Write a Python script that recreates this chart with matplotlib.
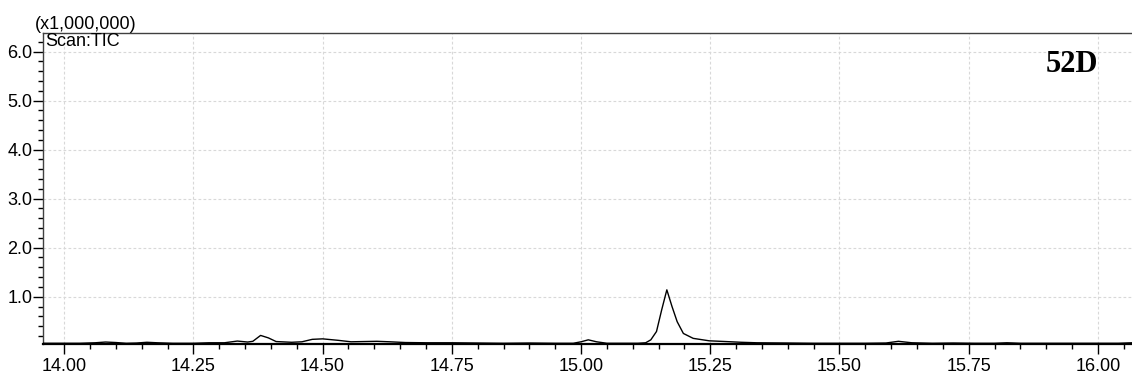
import matplotlib
matplotlib.use("Agg")
import matplotlib.pyplot as plt
from matplotlib.ticker import MultipleLocator, FixedLocator, FuncFormatter

# Retention time (min) and TIC intensity (x1,000,000)
rt = [13.96, 13.99, 14.03, 14.06, 14.08, 14.10, 14.12, 14.14, 14.16, 14.18, 14.21,
      14.25, 14.28, 14.31, 14.335, 14.355, 14.365, 14.38, 14.395, 14.41, 14.44,
      14.46, 14.48, 14.50, 14.53, 14.555, 14.58, 14.605, 14.63, 14.66, 14.70,
      14.75, 14.80, 14.85, 14.90, 14.95, 14.985, 15.00, 15.014, 15.03, 15.05,
      15.08, 15.11, 15.125, 15.135, 15.146, 15.156, 15.166, 15.176, 15.186,
      15.198, 15.217, 15.248, 15.28, 15.31, 15.34, 15.40, 15.45, 15.50, 15.55,
      15.59, 15.614, 15.64, 15.68, 15.72, 15.76, 15.80, 15.824, 15.85, 15.90,
      15.95, 16.00, 16.04, 16.066]
tic = [0.05, 0.05, 0.05, 0.06, 0.075, 0.065, 0.05, 0.055, 0.07, 0.06, 0.05,
       0.05, 0.06, 0.06, 0.095, 0.075, 0.09, 0.21, 0.16, 0.085, 0.07,
       0.08, 0.13, 0.14, 0.11, 0.08, 0.085, 0.09, 0.08, 0.065, 0.06,
       0.06, 0.055, 0.05, 0.055, 0.05, 0.05, 0.08, 0.12, 0.08, 0.05,
       0.05, 0.05, 0.06, 0.12, 0.29, 0.73, 1.14, 0.80, 0.49,
       0.25, 0.15, 0.10, 0.085, 0.07, 0.06, 0.055, 0.05, 0.05, 0.05,
       0.055, 0.09, 0.06, 0.05, 0.055, 0.05, 0.05, 0.06, 0.05, 0.05,
       0.05, 0.05, 0.05, 0.06]

y_major = [1.0, 2.0, 3.0, 4.0, 5.0, 6.0]
x_major = [14.00, 14.25, 14.50, 14.75, 15.00, 15.25, 15.50, 15.75, 16.00]

SANS = ["Liberation Sans", "DejaVu Sans"]
plt.rcParams["font.family"] = SANS

W, H = 1132, 378
fig = plt.figure(figsize=(W / 100, H / 100), dpi=100)
ax = fig.add_axes([43 / W, 1 - 344 / H, 1 - 43 / W, (344 - 33) / H])

ax.plot(rt, tic, color="black", lw=1.0, zorder=3)

ax.set_xlim(13.959, 16.066)
ax.set_ylim(0.035, 6.38)

ax.xaxis.set_major_locator(FixedLocator(x_major))
ax.xaxis.set_minor_locator(MultipleLocator(0.05))
ax.yaxis.set_major_locator(FixedLocator(y_major))
ax.yaxis.set_minor_locator(MultipleLocator(0.2))
ax.xaxis.set_major_formatter(FuncFormatter(lambda v, p: f"{v:.2f}"))
ax.yaxis.set_major_formatter(FuncFormatter(lambda v, p: f"{v:.1f}"))

ax.tick_params(axis="x", which="major", direction="out", length=7.5, width=1.0,
               pad=2.5, labelsize=13, color="black")
ax.tick_params(axis="x", which="minor", direction="out", length=3.5, width=1.0,
               color="black")
ax.tick_params(axis="y", which="major", direction="out", length=7, width=1.0,
               pad=0.5, labelsize=13, color="black")
ax.tick_params(axis="y", which="minor", direction="out", length=3.5, width=1.0,
               color="black")

ax.grid(True, which="major", color="#d8d8d8", linestyle=(0, (2.5, 2)), lw=0.8)
ax.set_axisbelow(True)

ax.spines["right"].set_visible(False)
ax.spines["top"].set_color("#404040")
ax.spines["top"].set_linewidth(1.0)
ax.spines["left"].set_color("#404040")
ax.spines["left"].set_linewidth(1.0)
ax.spines["bottom"].set_color("black")
ax.spines["bottom"].set_linewidth(1.6)

fig.text(35 / W, 1 - 29 / H, "(x1,000,000)", fontsize=13,
         ha="left", va="baseline")
ax.text(2 / W, 1.0, "Scan:TIC", transform=ax.transAxes,
        fontsize=13, ha="left", va="top")
fig.text(1098 / W, 1 - 72 / H, "52D", fontsize=22, fontweight="bold",
         family=["Liberation Serif", "DejaVu Serif"], ha="right", va="baseline")

fig.savefig("out.png", dpi=100)
